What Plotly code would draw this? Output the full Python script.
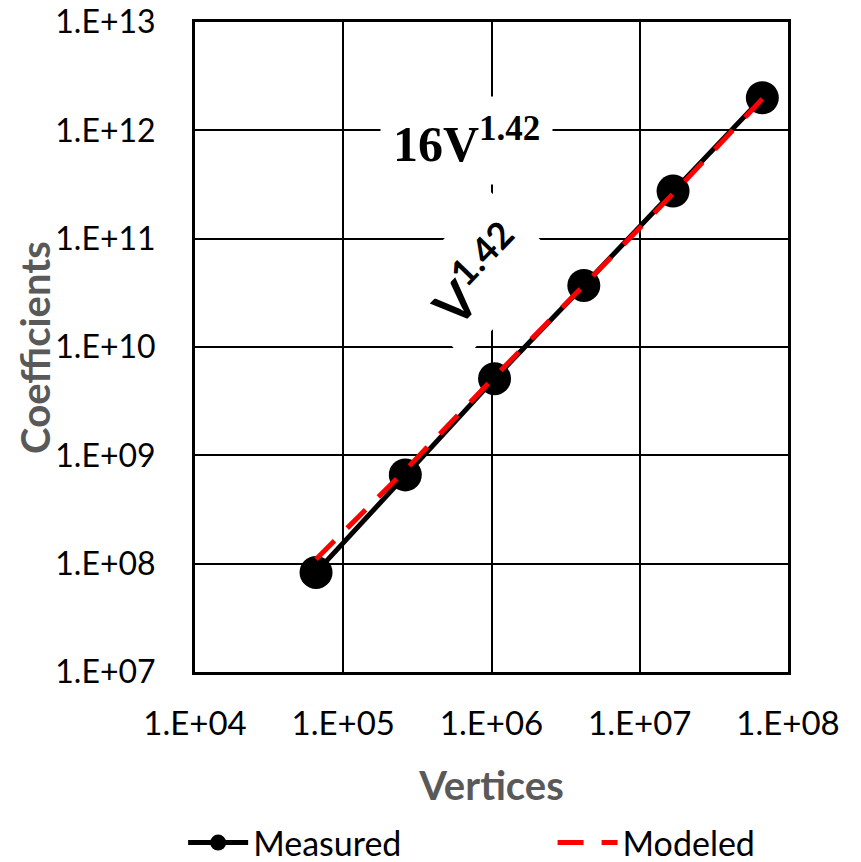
import plotly.graph_objects as go

vertices = [65536, 262144, 1048576, 4194304, 16777216, 67108864]
measured = [8.3e7, 6.6e8, 5.1e9, 3.7e10, 2.75e11, 2.0e12]
modeled = [1.1e8, 7.3e8, 5.3e9, 3.7e10, 2.6e11, 1.95e12]

x_ticks = [1e4, 1e5, 1e6, 1e7, 1e8]
x_labels = ["1.E+04", "1.E+05", "1.E+06", "1.E+07", "1.E+08"]
y_ticks = [1e7, 1e8, 1e9, 1e10, 1e11, 1e12, 1e13]
y_labels = ["1.E+07", "1.E+08", "1.E+09", "1.E+10", "1.E+11", "1.E+12", "1.E+13"]

FONT = "Lato"

fig = go.Figure()
fig.add_trace(go.Scatter(
    x=vertices, y=measured, name="Measured", mode="lines+markers",
    line=dict(color="black", width=5),
    marker=dict(color="black", size=33),
    legend="legend",
))
fig.add_trace(go.Scatter(
    x=vertices, y=modeled, name="Modeled", mode="lines",
    line=dict(color="#ff0000", width=5, dash="26px,18px"),
    legend="legend2",
))

fig.add_annotation(
    x=0.457, y=0.818, xref="paper", yref="paper",
    xanchor="center", yanchor="middle",
    text="<b>16V<sup>1.42</sup></b>", showarrow=False,
    font=dict(family="Liberation Serif", size=50, color="black"),
    bgcolor="white", borderpad=12,
)
fig.add_annotation(
    x=0.477, y=0.611, xref="paper", yref="paper",
    xanchor="center", yanchor="middle",
    text="V<sup>1.42</sup>", showarrow=False, textangle=-46,
    font=dict(family=FONT, size=52, color="black", weight="bold"),
    bgcolor="white", borderpad=14,
)
# y-axis title
fig.add_annotation(
    x=-0.27, y=0.5, xref="paper", yref="paper",
    xanchor="center", yanchor="middle",
    text="<b>Coefficients</b>", showarrow=False, textangle=-90,
    font=dict(family=FONT, size=40, color="#595959"),
)

fig.update_xaxes(
    type="log", range=[4, 8], tickvals=x_ticks, ticktext=x_labels,
    showgrid=True, gridcolor="black", gridwidth=2,
    showline=True, linecolor="black", linewidth=3, mirror=True,
    ticks="", tickfont=dict(family=FONT, size=33, color="black"),
    ticklabelstandoff=20, automargin=False, ticklabeloverflow="allow",
    title=dict(text="<b>Vertices</b>", font=dict(family=FONT, size=40, color="#595959"), standoff=32),
    zeroline=False,
)
fig.update_yaxes(
    type="log", range=[7, 13], tickvals=y_ticks, ticktext=y_labels,
    showgrid=True, gridcolor="black", gridwidth=2,
    showline=True, linecolor="black", linewidth=3, mirror=True,
    ticks="", tickfont=dict(family=FONT, size=32, color="black"),
    ticklabelstandoff=30, automargin=False, ticklabeloverflow="allow",
    zeroline=False,
)

leg_common = dict(
    orientation="h", yanchor="middle", y=-0.263, xanchor="left",
    font=dict(family=FONT, size=34, color="black"),
    itemwidth=60, bgcolor="rgba(0,0,0,0)",
)

fig.update_layout(
    width=861, height=862,
    margin=dict(l=195, r=73, t=22, b=190, autoexpand=False),
    paper_bgcolor="white", plot_bgcolor="white",
    showlegend=True,
    legend=dict(x=-0.02, **leg_common),
    legend2=dict(x=0.603, **leg_common),
)

fig.write_html("out.html", config={"displayModeBar": False},
               post_script="document.body.style.margin='0';")
